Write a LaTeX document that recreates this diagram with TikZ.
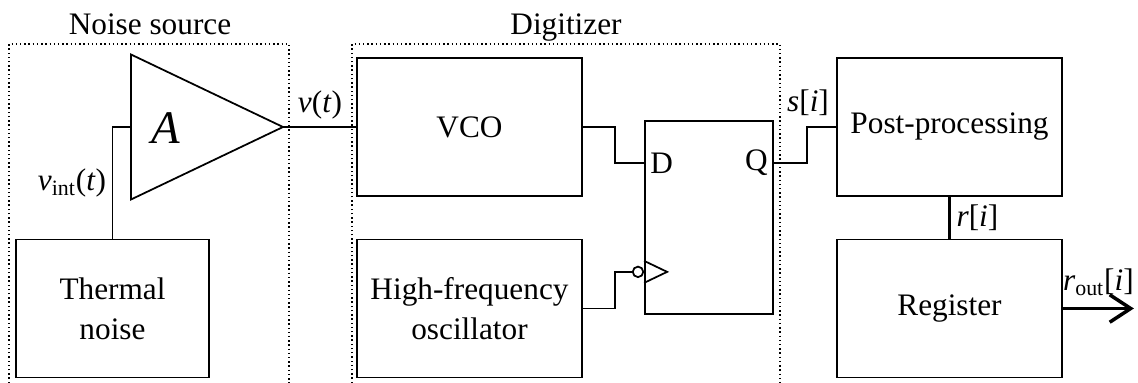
\documentclass[tikz,border=0pt]{standalone}
\usepackage{fontspec}
\setmainfont{Liberation Serif}
\usetikzlibrary{arrows.meta,positioning,calc}
\tikzset{
  blockBox/.style={draw, line width=1pt, minimum width=4.5cm, minimum height=2.76cm, align=center, inner sep=2pt},
  groupFrame/.style={line width=0.8pt, dash pattern=on 0.8pt off 1.6pt},
  wireLine/.style={line width=1pt},
  busLine/.style={line width=2pt},
  sigLabel/.style={inner sep=1pt}
}
\newcommand{\sigvar}[1]{\textit{#1}}

\begin{document}
\begin{tikzpicture}[x=1cm,y=1cm,font=\fontsize{17.8}{22.8}\selectfont]
  \useasboundingbox (0,0) rectangle (22.76,7.66);
  % group frames
  \draw[groupFrame] (0.18,0) |- (5.78,6.78) -- (5.78,0);
  \draw[groupFrame] (7.04,0) |- (15.6,6.78) -- (15.6,0);
  \node[anchor=base] (noiseTitle) at (3.0,6.96) {Noise source};
  \node[anchor=base] (digTitle) at (11.32,6.96) {Digitizer};
  % noise source
  \node[blockBox, minimum width=3.86cm] (therm) at (2.25,1.49) {Thermal\\noise};
  \coordinate (ampIn) at (2.62,5.12);
  \coordinate (ampOut) at (5.66,5.12);
  \draw[wireLine] (2.62,6.57) -- (ampOut) -- (2.62,3.67) -- cycle;
  \node[font=\fontsize{26.6}{30}\selectfont\itshape] (gain) at (3.32,5.10) {A};
  \draw[wireLine] (therm.north) |- (ampIn);
  \node[sigLabel] (vintLabel) at (1.44,4.0) {\sigvar{v}\textsubscript{int}(\sigvar{t})};
  % digitizer
  \node[blockBox] (vco) at (9.39,5.12) {VCO};
  \node[blockBox] (hfo) at (9.39,1.49) {High-frequency\\oscillator};
  \node[draw, wireLine, minimum width=2.56cm, minimum height=3.86cm] (ff) at (14.18,3.31) {};
  \coordinate (ffD) at ([yshift=-0.86cm]ff.north west);
  \coordinate (ffClk) at ([yshift=0.86cm]ff.south west);
  \coordinate (ffQ) at ([yshift=-0.86cm]ff.north east);
  \node[right] (dLabel) at (ffD) {D};
  \node[left] (qLabel) at (ffQ) {Q};
  \draw[wireLine] ([yshift=0.22cm]ffClk) -- ([xshift=0.46cm]ffClk) -- ([yshift=-0.22cm]ffClk);
  \node[draw, circle, wireLine, inner sep=0pt, minimum size=0.21cm, anchor=east] (bubble) at (ffClk) {};
  \draw[wireLine] (ampOut) -- (vco.west);
  \node[sigLabel] (vLabel) at (6.4,5.56) {\sigvar{v}(\sigvar{t})};
  \draw[wireLine] (vco.east) -- ++(0.64,0) |- (ffD);
  \draw[wireLine] (hfo.east) -- ++(0.64,0) |- (bubble.west);
  % output side
  \node[blockBox] (post) at (18.99,5.12) {Post-processing};
  \node[blockBox] (reg) at (18.99,1.49) {Register};
  \draw[wireLine] (ffQ) -- ++(0.66,0) |- (post.west);
  \node[sigLabel] (sLabel) at (16.16,5.6) {\sigvar{s}[\sigvar{i}]};
  \draw[busLine] (post.south) -- node[right, inner sep=3pt] (rLabel) {\sigvar{r}[\sigvar{i}]} (reg.north);
  \coordinate (outEnd) at ([xshift=1.42cm]reg.east);
  \draw[busLine, -{Straight Barb[length=0.42cm, width=0.55cm]}] (reg.east) -- node[above, yshift=3pt] (routLabel) {\sigvar{r}\textsubscript{out}[\sigvar{i}]} (outEnd);
\end{tikzpicture}
\end{document}
